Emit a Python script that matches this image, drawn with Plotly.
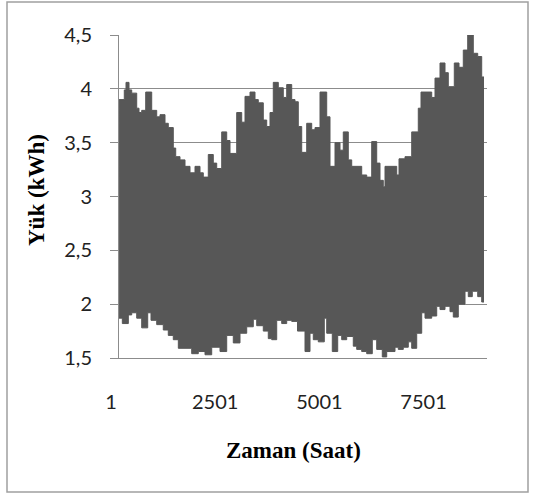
import plotly.graph_objects as go

# Hourly load over one year: upper and lower envelope of the hourly curve,
# given as (hour where a level starts, level in kWh).
upper_hours = [1, 127, 168, 240, 305, 425, 480, 545, 641, 785, 905, 984, 1104, 1183,
               1303, 1361, 1464, 1584, 1704, 1824, 1944, 2023, 2143, 2263, 2345, 2465,
               2585, 2664, 2825, 2945, 3024, 3144, 3264, 3343, 3463, 3545, 3624, 3703,
               3823, 3943, 4025, 4145, 4224, 4303, 4385, 4505, 4625, 4704, 4824, 4985,
               5064, 5184, 5304, 5383, 5503, 5585, 5825, 5945, 6065, 6185, 6264, 6343,
               6384, 6665, 6720, 6864, 7025, 7183, 7248, 7505, 7584, 7704, 7824, 7903,
               8047, 8160, 8263, 8369, 8503, 8609, 8705, 8760]
upper_load = [3.90, 3.99, 4.06, 3.99, 3.96, 3.82, 3.78, 3.80, 3.97, 3.80, 3.74, 3.76, 3.68, 3.64,
              3.45, 3.37, 3.34, 3.28, 3.22, 3.28, 3.22, 3.18, 3.39, 3.31, 3.26, 3.60,
              3.52, 3.40, 3.78, 3.69, 3.93, 3.97, 3.90, 3.87, 3.71, 3.65, 3.78, 4.06,
              4.01, 3.92, 4.04, 3.90, 3.88, 3.65, 3.41, 3.68, 3.62, 3.64, 3.97, 3.74,
              3.28, 3.50, 3.43, 3.60, 3.34, 3.28, 3.20, 3.18, 3.51, 3.31, 3.15, 3.09,
              3.28, 3.20, 3.35, 3.37, 3.60, 3.82, 3.97, 3.92, 4.10, 4.24, 4.15, 4.02,
              4.24, 4.20, 4.36, 4.50, 4.33, 4.30, 4.11, 4.11]

lower_hours = [1, 80, 224, 305, 425, 545, 689, 768, 905, 1063, 1183, 1303, 1424, 1745,
               1903, 2064, 2225, 2424, 2585, 2743, 2904, 3065, 3223, 3305, 3463, 3583,
               3665, 3785, 3905, 4025, 4145, 4284, 4464, 4584, 4663, 4783, 4927, 4985,
               5119, 5249, 5345, 5465, 5623, 5705, 5825, 5945, 6079, 6185, 6319, 6425,
               6624, 6703, 6823, 6943, 7025, 7145, 7265, 7344, 7505, 7625, 7704, 7824,
               7944, 8023, 8143, 8304, 8383, 8479, 8609, 8705, 8760]
lower_load = [1.87, 1.82, 1.90, 1.92, 1.87, 1.78, 1.92, 1.85, 1.81, 1.76, 1.71, 1.67, 1.59, 1.54,
              1.56, 1.53, 1.60, 1.56, 1.71, 1.64, 1.73, 1.79, 1.86, 1.80, 1.75, 1.68,
              1.67, 1.85, 1.82, 1.85, 1.84, 1.75, 1.56, 1.73, 1.67, 1.65, 1.87, 1.73,
              1.56, 1.71, 1.67, 1.70, 1.61, 1.58, 1.56, 1.54, 1.67, 1.58, 1.51, 1.56,
              1.60, 1.58, 1.60, 1.65, 1.59, 1.73, 1.92, 1.87, 1.89, 1.98, 1.95, 1.98,
              1.93, 1.88, 2.00, 2.12, 2.07, 2.12, 2.07, 2.02, 2.02]

x_tick_values = [1, 2501, 5001, 7501]
x_tick_labels = ["1", "2501", "5001", "7501"]
y_tick_values = [1.5, 2, 2.5, 3, 3.5, 4, 4.5]

BAND = "#575757"
GRID = "#8c8c8c"

fig = go.Figure()
fig.add_trace(go.Scatter(
    x=lower_hours, y=lower_load, mode="lines", line_shape="hv",
    line=dict(color=BAND, width=1), hoverinfo="skip", showlegend=False))
fig.add_trace(go.Scatter(
    x=upper_hours, y=upper_load, mode="lines", line_shape="hv",
    line=dict(color=BAND, width=1), fill="tonexty", fillcolor=BAND,
    hoverinfo="skip", showlegend=False))

W, H = 537, 495
L, R, T, B = 119, 50, 35, 137
pw, ph = W - L - R, H - T - B


def px(xp):
    return (xp - L) / pw


def py(yp):
    return (H - B - yp) / ph


title_font = dict(family="Liberation Serif", size=23, color="black", weight="bold")

fig.update_layout(
    width=W, height=H,
    margin=dict(l=L, r=R, t=T, b=B),
    paper_bgcolor="white", plot_bgcolor="white",
    separators=", ",
    xaxis=dict(
        range=[0, 8832], tickvals=x_tick_values, ticktext=x_tick_labels,
        showgrid=False, zeroline=False, showline=True, linecolor=GRID, linewidth=1,
        ticks="", ticklabelstandoff=26, ticklabelshift=-8,
        tickfont=dict(family="Lato", size=20, color="#222222"),
    ),
    yaxis=dict(
        range=[1.5, 4.5], tickvals=y_tick_values,
        showgrid=True, gridcolor=GRID, gridwidth=1, zeroline=False,
        showline=True, linecolor=GRID, linewidth=1,
        ticks="outside", ticklen=8, tickcolor=GRID, ticklabelstandoff=14,
        tickfont=dict(family="Lato", size=20, color="#222222"),
    ),
    shapes=[dict(type="rect", xref="paper", yref="paper",
                 x0=px(7), x1=px(528), y0=py(492), y1=py(2),
                 line=dict(color="#a0a0a0", width=1.5), layer="below")],
    annotations=[
        dict(text="Zaman (Saat)", xref="paper", yref="paper",
             x=px(293), y=py(450), showarrow=False, font=title_font,
             xanchor="center", yanchor="middle"),
        dict(text="Yük (kWh)", xref="paper", yref="paper",
             x=px(36), y=py(190), showarrow=False, textangle=-90, font=title_font,
             xanchor="center", yanchor="middle"),
    ],
)

fig.write_html("out.html")
